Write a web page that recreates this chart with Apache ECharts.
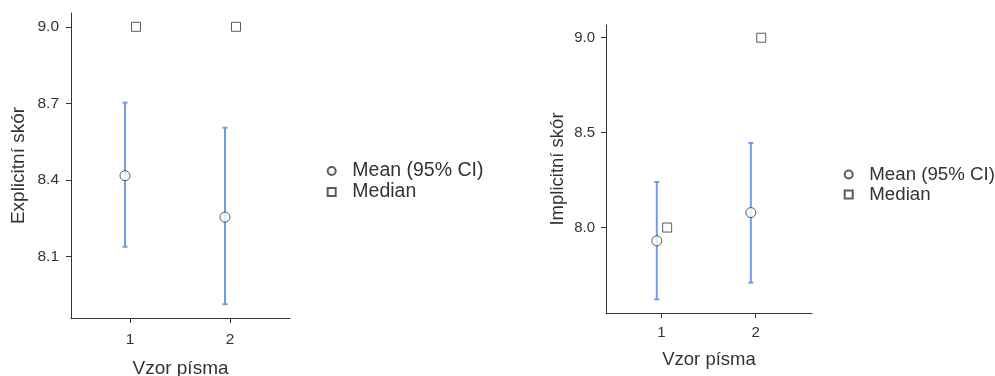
<!DOCTYPE html>
<html>
<head>
<meta charset="utf-8">
<script src="https://cdn.jsdelivr.net/npm/echarts@6/dist/echarts.min.js"></script>
<style>html,body{margin:0;padding:0;background:#fff}#c{width:995px;height:376px}</style>
</head>
<body>
<div id="c"></div>
<script>
// Data
var categories = [1, 2];
var explicitMean = [8.417, 8.255];
var explicitLow = [8.139, 7.914];
var explicitHigh = [8.703, 8.605];
var explicitMedian = [9.0, 9.0];
var explicitTicks = [8.1, 8.4, 8.7, 9.0];

var implicitMean = [7.93, 8.079];
var implicitLow = [7.622, 7.71];
var implicitHigh = [8.24, 8.446];
var implicitMedian = [8.0, 9.0];
var implicitTicks = [8.0, 8.5, 9.0];

var xTitle = 'Vzor písma';
var yTitles = ['Explicitní skór', 'Implicitní skór'];
var legendNames = ['Mean (95% CI)', 'Median'];

var MEAN_DODGE = -0.05, MED_DODGE = 0.06;
var TXT = '#333333', AX = '#333333', CI = '#6d9eeb';
var FONT = 'Liberation Sans, Arial, sans-serif';

function pts(vals, dodge) { return categories.map(function (c, i) { return [c + dodge, vals[i]]; }); }
function ci(low, high, dodge) { return categories.map(function (c, i) { return [c + dodge, low[i], high[i]]; }); }

function renderCI(params, api) {
  var x = api.value(0);
  var lo = api.coord([x, api.value(1)]);
  var hi = api.coord([x, api.value(2)]);
  var cw = 2.5;
  var st = { stroke: CI, lineWidth: 2 };
  return {
    type: 'group',
    children: [
      { type: 'line', shape: { x1: lo[0], y1: lo[1], x2: hi[0], y2: hi[1] }, style: st },
      { type: 'line', shape: { x1: lo[0] - cw, y1: lo[1], x2: lo[0] + cw, y2: lo[1] }, style: st },
      { type: 'line', shape: { x1: hi[0] - cw, y1: hi[1], x2: hi[0] + cw, y2: hi[1] }, style: st }
    ]
  };
}

function xAxis(idx, gap, titleSize, tickSize, margin) {
  return {
    type: 'value', gridIndex: idx, min: 0.41, max: 2.6,
    name: xTitle, nameLocation: 'middle', nameGap: gap,
    nameTextStyle: { color: TXT, fontSize: titleSize, fontFamily: FONT },
    axisLine: { show: true, lineStyle: { color: AX, width: 1 } },
    axisTick: { show: true, length: 5, lineStyle: { color: AX }, customValues: categories },
    axisLabel: { color: TXT, fontSize: tickSize, fontFamily: FONT, margin: margin, customValues: categories, formatter: function (v) { return String(v); } },
    splitLine: { show: false }
  };
}
function yAxis(idx, min, max, ticks, gap, titleSize, tickSize, margin) {
  return {
    type: 'value', gridIndex: idx, min: min, max: max,
    name: yTitles[idx], nameLocation: 'middle', nameGap: gap,
    nameTextStyle: { color: TXT, fontSize: titleSize, fontFamily: FONT },
    axisLine: { show: true, lineStyle: { color: AX, width: 1 } },
    axisTick: { show: true, length: 5, lineStyle: { color: AX }, customValues: ticks },
    axisLabel: { color: TXT, fontSize: tickSize, fontFamily: FONT, margin: margin, customValues: ticks, formatter: function (v) { return v.toFixed(1); } },
    splitLine: { show: false }
  };
}

var meanStyle = { color: '#ffffff', borderColor: '#333333', borderWidth: 1 };

var option = {
  animation: false,
  backgroundColor: '#ffffff',
  textStyle: { fontFamily: FONT },
  grid: [
    { left: 71, top: 13, width: 219, height: 305, outerBoundsMode: 'none', containLabel: false },
    { left: 606, top: 25, width: 206, height: 288, outerBoundsMode: 'none', containLabel: false }
  ],
  xAxis: [xAxis(0, 41, 19, 15.5, 14), xAxis(1, 37, 18.5, 15, 12)],
  yAxis: [
    yAxis(0, 7.86, 9.054, explicitTicks, 43, 19, 15.5, 12),
    yAxis(1, 7.55, 9.067, implicitTicks, 39, 18.5, 15, 11)
  ],
  legend: [
    { orient: 'vertical', left: 326.7, top: 160.5, padding: 0, itemWidth: 8, itemHeight: 8, itemGap: 0,
      data: legendNames, textStyle: { color: TXT, fontSize: 19.5, lineHeight: 21, fontFamily: FONT, padding: [0, 0, 0, 11.6] } },
    { orient: 'vertical', left: 843.7, top: 164.5, padding: 0, itemWidth: 8, itemHeight: 8, itemGap: 0,
      data: legendNames, textStyle: { color: TXT, fontSize: 18.7, lineHeight: 20, fontFamily: FONT, padding: [0, 0, 0, 11.6] } }
  ],
  series: [
    { type: 'custom', name: 'ci0', xAxisIndex: 0, yAxisIndex: 0, renderItem: renderCI, data: ci(explicitLow, explicitHigh, MEAN_DODGE), z: 1 },
    { type: 'scatter', name: legendNames[0], xAxisIndex: 0, yAxisIndex: 0, symbol: 'circle', symbolSize: 10, itemStyle: meanStyle, data: pts(explicitMean, MEAN_DODGE), z: 3 },
    { type: 'scatter', name: legendNames[1], xAxisIndex: 0, yAxisIndex: 0, symbol: 'rect', symbolSize: 9, itemStyle: meanStyle, data: pts(explicitMedian, MED_DODGE), z: 3 },
    { type: 'custom', name: 'ci1', xAxisIndex: 1, yAxisIndex: 1, renderItem: renderCI, data: ci(implicitLow, implicitHigh, MEAN_DODGE), z: 1 },
    { type: 'scatter', name: legendNames[0], xAxisIndex: 1, yAxisIndex: 1, symbol: 'circle', symbolSize: 10, itemStyle: meanStyle, data: pts(implicitMean, MEAN_DODGE), z: 3 },
    { type: 'scatter', name: legendNames[1], xAxisIndex: 1, yAxisIndex: 1, symbol: 'rect', symbolSize: 9, itemStyle: meanStyle, data: pts(implicitMedian, MED_DODGE), z: 3 }
  ]
};
var chart = echarts.init(document.getElementById('c'), null, { renderer: 'canvas' });
chart.setOption(option);
</script>
</body>
</html>
